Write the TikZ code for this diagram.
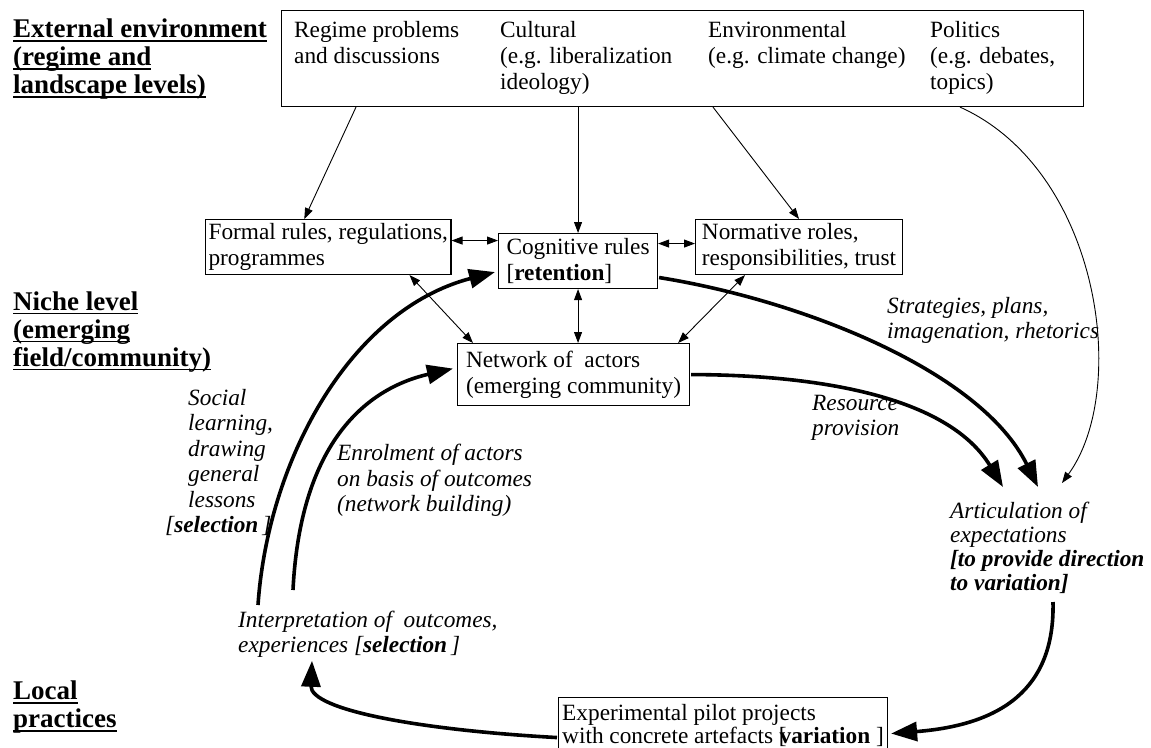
\documentclass[tikz,border=0pt]{standalone}
\usepackage{fontspec}
\setmainfont{Liberation Serif}
\usetikzlibrary{arrows.meta,calc}
\newcommand\myul[1]{\setbox0\hbox{#1}\rlap{\rule[-4pt]{\wd0}{1.6pt}}\box0}
\begin{document}
\begin{tikzpicture}[x=1pt,y=-1pt,
  body/.style={font=\fontsize{23.3}{26}\selectfont, inner sep=0pt, anchor=north west, align=left},
  head/.style={font=\fontsize{27}{28}\selectfont\bfseries, inner sep=0pt, anchor=north west, align=left},
  itl/.style={font=\fontsize{23.3}{25}\selectfont\itshape, inner sep=0pt, anchor=north west, align=left},
  box/.style={draw, line width=1.1pt, anchor=north west, font=\fontsize{23.3}{26}\selectfont, align=left, inner xsep=3pt, inner ysep=0pt},
  thinarr/.style={line width=0.9pt, -{Triangle[length=11pt,width=8pt]}},
  dbl/.style={line width=0.9pt, {Triangle[length=11pt,width=8pt]}-{Triangle[length=11pt,width=8pt]}},
  thickarr/.style={line width=3.6pt, -{Triangle[length=26pt,width=19pt]}},
]
\useasboundingbox (0,0) rectangle (1151,747);

% level headings
\node[head] (hext) at (13,18.7) {\myul{External environment}\\\myul{(regime and}\\\myul{landscape levels)}};
\node[head] (hniche) at (13,291.5) {\myul{Niche level}\\\myul{(emerging}\\\myul{field/community)}};
\node[head] (hlocal) at (13,681) {\myul{Local}\\\myul{practices}};

% external environment box
\node[box, minimum width=802pt, minimum height=96pt] (env) at (281,10) {};
\node[body] (reg) at (294,21) {Regime problems\\and discussions};
\node[body] (cul) at (500,21) {Cultural\\(e.g. liberalization\\ideology)};
\node[body] (envt) at (708,21) {Environmental\\(e.g. climate change)};
\node[body] (pol) at (930,21) {Politics\\(e.g. debates,\\topics)};

% niche boxes
\node[box, minimum width=244pt, minimum height=55pt] (formal) at (205,219) {Formal rules, regulations,\\programmes};
\node[box, minimum width=159pt, minimum height=55pt] (cog) at (498,233) {Cognitive rules\\{[}\textbf{retention}{]}};
\node[box, minimum width=207pt, minimum height=55pt] (norm) at (695,219) {Normative roles,\\responsibilities, trust};
\node[box, minimum width=232pt, minimum height=62pt] (net) at (457,343) {Network of~ actors\\(emerging community)};

% local box
\node[box, minimum width=329pt, minimum height=56pt, font=\fontsize{23.3}{23.5}\selectfont] (exp) at (558,697) {Experimental pilot projects\\with concrete artefacts [\kern-0.3em\textbf{variation} ]};

% italic labels
\node[itl, font=\fontsize{23.3}{25.5}\selectfont\itshape] (soc) at (188,389) {Social\\learning,\\drawing\\general\\lessons\\\hspace*{-23pt}[\textbf{selection}\,]};
\node[itl, font=\fontsize{23.3}{25.5}\selectfont\itshape] (enr) at (337,444) {Enrolment of actors\\on basis of outcomes\\(network building)};
\node[itl] (strat) at (887,297) {Strategies, plans,\\imagenation, rhetorics};
\node[itl] (res) at (812,394.6) {Resource\\provision};
\node[itl, font=\fontsize{23.3}{24}\selectfont\itshape] (art) at (950,502) {Articulation of\\expectations\\\textbf{[to provide direction}\\\textbf{to variation]}};
\node[itl] (interp) at (238,611) {Interpretation of~ outcomes,\\experiences [\textbf{selection}\,]};

% thin arrows from the environment
\draw[thinarr] ($(env.south west)+(75,0)$) -- ($(formal.north)+(-24,0)$);
\draw[thinarr] (env.south -| cog.north) -- (cog.north);
\draw[thinarr] ($(env.south west)+(432,0)$) -- (norm.north);
\draw[thinarr] ($(env.south west)+(679,0)$) .. controls (1100,170) and (1130,390) .. ($(art.north west)+(112,-19)$);

% double arrows among niche boxes
\coordinate (fc) at ($(formal.east)+(0,-6.5)$);
\draw[dbl] (fc) -- (fc -| cog.west);
\coordinate (cn) at ($(cog.east)+(0,-17.5)$);
\draw[dbl] (cn) -- (cn -| norm.west);
\draw[dbl] ($(formal.south east)+(-42,0)$) -- ($(net.north west)+(16,0)$);
\draw[dbl] (cog.south) -- (cog.south |- net.north);
\draw[dbl] ($(norm.south west)+(50,0)$) -- ($(net.north east)+(-12,0)$);

% thick cycle arrows
\draw[thickarr] ($(cog.east)+(1,16.5)$) .. controls (800,300) and (980,370) .. ($(art.north west)+(88,-15)$);
\draw[thickarr] ($(net.east)+(1,0)$) .. controls (830,375) and (950,400) .. ($(art.north west)+(53,-15)$);
\draw[thickarr] ($(art.north west)+(103,100)$) .. controls (1055,690) and (1000,725) .. ($(exp.east)+(3,8)$);
\draw[thickarr] ($(exp.west)+(-1,12)$) .. controls (420,730) and (310,710) .. ($(interp.south west)+(74,3)$);
\draw[thickarr] ($(interp.north west)+(20,-6)$) .. controls (268,460) and (350,310) .. ($(cog.west)+(-3,11)$);
\draw[thickarr] ($(interp.north west)+(55,-21)$) .. controls (300,450) and (360,390) .. ($(net.west)+(-4,-6)$);
\end{tikzpicture}
\end{document}
